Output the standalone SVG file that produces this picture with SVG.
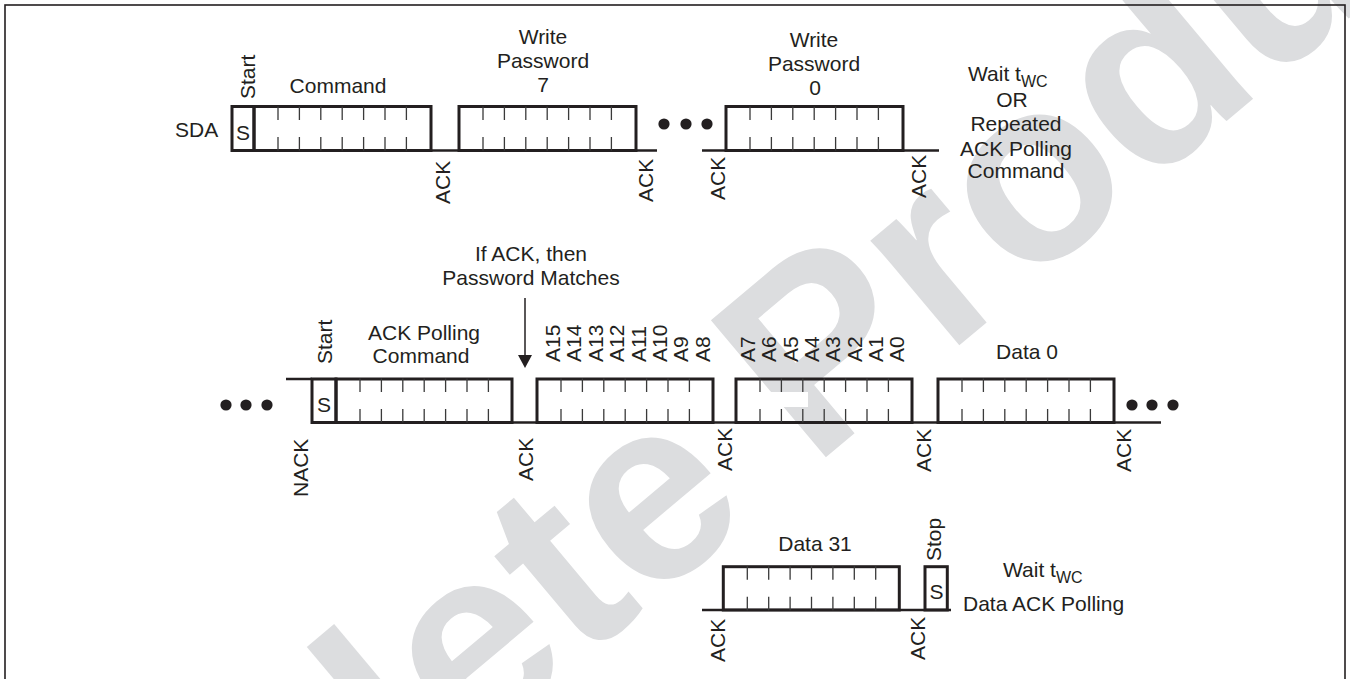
<svg xmlns="http://www.w3.org/2000/svg" width="1350" height="679" viewBox="0 0 1350 679">
<style>
text{font-family:"Liberation Sans",Arial,Helvetica,sans-serif;font-size:21px;fill:#231f20}
.c{text-anchor:middle}
.sub{font-size:16px}
.box{fill:none;stroke:#231f20;stroke-width:3}
.sig{fill:none;stroke:#231f20;stroke-width:2.6}
.tk{stroke:#3a3a3a;stroke-width:1.3}
.dot{fill:#231f20}
.wm{font-family:"Liberation Sans",Arial,sans-serif;font-weight:bold;font-size:260px;fill:#dcdddf}
</style>
<defs>
<g id="ticks8">
<path class="tk" d="M24,0v13.5M45.4,0v13.5M66.8,0v13.5M88.2,0v13.5M109.6,0v13.5M131,0v13.5M152.4,0v13.5M24,30.5v13.5M45.4,30.5v13.5M66.8,30.5v13.5M88.2,30.5v13.5M109.6,30.5v13.5M131,30.5v13.5M152.4,30.5v13.5"/>
</g>
</defs>
<rect width="1350" height="679" fill="#ffffff"/>
<g id="watermark">
<text class="wm" transform="translate(-95,1230) rotate(-40)">Obsolete Product</text>
<rect x="748" y="392" width="60" height="15" fill="#ffffff"/>
</g>
<rect id="frame" x="5" y="5" width="1340" height="700" fill="none" stroke="#231f20" stroke-width="1.6"/>

<g id="connectors">
<path class="sig" d="M232,150.5H657M702,150.5H939"/>
<path class="sig" d="M286,379H312M312,422.5H1161"/>
<path class="sig" d="M702,610H951"/>
<path d="M525,298V357" stroke="#231f20" stroke-width="1.5" fill="none"/>
<polygon points="518,355 532,355 525,368" fill="#231f20"/>
</g>

<g id="row1">
<text x="175" y="137">SDA</text>
<g id="start1">
<rect class="box" x="232" y="106.5" width="22" height="44"/>
<text class="c" x="243" y="140">S</text>
<text transform="translate(255,99) rotate(-90)">Start</text>
</g>
<g id="command1">
<rect class="box" x="254" y="106.5" width="177" height="44"/>
<use href="#ticks8" x="254" y="106.5"/>
<text class="c" x="338" y="93">Command</text>
</g>
<g id="pw7">
<rect class="box" x="459" y="106.5" width="177" height="44"/>
<use href="#ticks8" x="459" y="106.5"/>
<text class="c" x="543" y="44">Write</text>
<text class="c" x="543" y="68">Password</text>
<text class="c" x="543" y="92">7</text>
</g>
<g id="dots1">
<circle class="dot" cx="664" cy="124" r="5.6"/>
<circle class="dot" cx="686" cy="124" r="5.6"/>
<circle class="dot" cx="707" cy="124" r="5.6"/>
</g>
<g id="pw0">
<rect class="box" x="726" y="106.5" width="177" height="44"/>
<use href="#ticks8" x="726" y="106.5"/>
<text class="c" x="814" y="47">Write</text>
<text class="c" x="814" y="71">Password</text>
<text class="c" x="815" y="95">0</text>
</g>
<g id="ack1">
<text transform="translate(450,204) rotate(-90)">ACK</text>
<text transform="translate(653,202) rotate(-90)">ACK</text>
<text transform="translate(725,200) rotate(-90)">ACK</text>
<text transform="translate(926,198) rotate(-90)">ACK</text>
</g>
<g id="wait1">
<text x="968" y="81">Wait t<tspan class="sub" dy="6">WC</tspan></text>
<text class="c" x="1012" y="107">OR</text>
<text class="c" x="1016" y="131">Repeated</text>
<text class="c" x="1016" y="156">ACK Polling</text>
<text class="c" x="1016" y="178">Command</text>
</g>
</g>

<g id="row2">
<g id="note">
<text class="c" x="531" y="261">If ACK, then</text>
<text class="c" x="531" y="285">Password Matches</text>
</g>
<g id="dots2">
<circle class="dot" cx="226" cy="405" r="5.6"/>
<circle class="dot" cx="246" cy="405" r="5.6"/>
<circle class="dot" cx="267" cy="405" r="5.6"/>
</g>
<g id="start2">
<rect class="box" x="312" y="379" width="24" height="43.5"/>
<text class="c" x="324" y="412">S</text>
<text transform="translate(332,364) rotate(-90)">Start</text>
</g>
<g id="command2">
<rect class="box" x="336" y="379" width="176" height="43.5"/>
<use href="#ticks8" x="336" y="378.5"/>
<text class="c" x="424" y="340">ACK Polling</text>
<text class="c" x="421" y="363">Command</text>
</g>
<g id="addrHi">
<rect class="box" x="537" y="379" width="176" height="43.5"/>
<use href="#ticks8" x="537" y="378.5"/>
<text transform="translate(560,362) rotate(-90)">A15</text>
<text transform="translate(581.4,362) rotate(-90)">A14</text>
<text transform="translate(602.8,362) rotate(-90)">A13</text>
<text transform="translate(624.2,362) rotate(-90)">A12</text>
<text transform="translate(645.6,362) rotate(-90)">A11</text>
<text transform="translate(667,362) rotate(-90)">A10</text>
<text transform="translate(688.4,362) rotate(-90)">A9</text>
<text transform="translate(709.8,362) rotate(-90)">A8</text>
</g>
<g id="addrLo">
<rect class="box" x="736" y="379" width="176" height="43.5"/>
<use href="#ticks8" x="736" y="378.5"/>
<text transform="translate(755,362) rotate(-90)">A7</text>
<text transform="translate(776.3,362) rotate(-90)">A6</text>
<text transform="translate(797.6,362) rotate(-90)">A5</text>
<text transform="translate(818.9,362) rotate(-90)">A4</text>
<text transform="translate(840.2,362) rotate(-90)">A3</text>
<text transform="translate(861.5,362) rotate(-90)">A2</text>
<text transform="translate(882.8,362) rotate(-90)">A1</text>
<text transform="translate(904.1,362) rotate(-90)">A0</text>
</g>
<g id="data0">
<rect class="box" x="938" y="379" width="176" height="43.5"/>
<use href="#ticks8" x="938" y="378.5"/>
<text class="c" x="1027" y="359">Data 0</text>
</g>
<g id="dots3">
<circle class="dot" cx="1132" cy="405" r="5.6"/>
<circle class="dot" cx="1152" cy="405" r="5.6"/>
<circle class="dot" cx="1173" cy="405" r="5.6"/>
</g>
<g id="ack2">
<text transform="translate(308,497) rotate(-90)">NACK</text>
<text transform="translate(533,481) rotate(-90)">ACK</text>
<text transform="translate(731.5,471) rotate(-90)">ACK</text>
<text transform="translate(931,472) rotate(-90)">ACK</text>
<text transform="translate(1131,472) rotate(-90)">ACK</text>
</g>
</g>

<g id="row3">
<g id="data31">
<rect class="box" x="723.3" y="566.7" width="176" height="43.3"/>
<use href="#ticks8" x="723.3" y="566.3"/>
<text class="c" x="815" y="551">Data 31</text>
</g>
<g id="stop">
<rect class="box" x="925" y="566.7" width="22.3" height="43.3"/>
<text class="c" x="936.5" y="598.5">S</text>
<text transform="translate(941,561) rotate(-90)">Stop</text>
</g>
<g id="ack3">
<text transform="translate(725,662) rotate(-90)">ACK</text>
<text transform="translate(925,660) rotate(-90)">ACK</text>
</g>
<g id="wait2">
<text x="1003" y="577">Wait t<tspan class="sub" dy="6">WC</tspan></text>
<text x="963" y="611">Data ACK Polling</text>
</g>
</g>
</svg>
